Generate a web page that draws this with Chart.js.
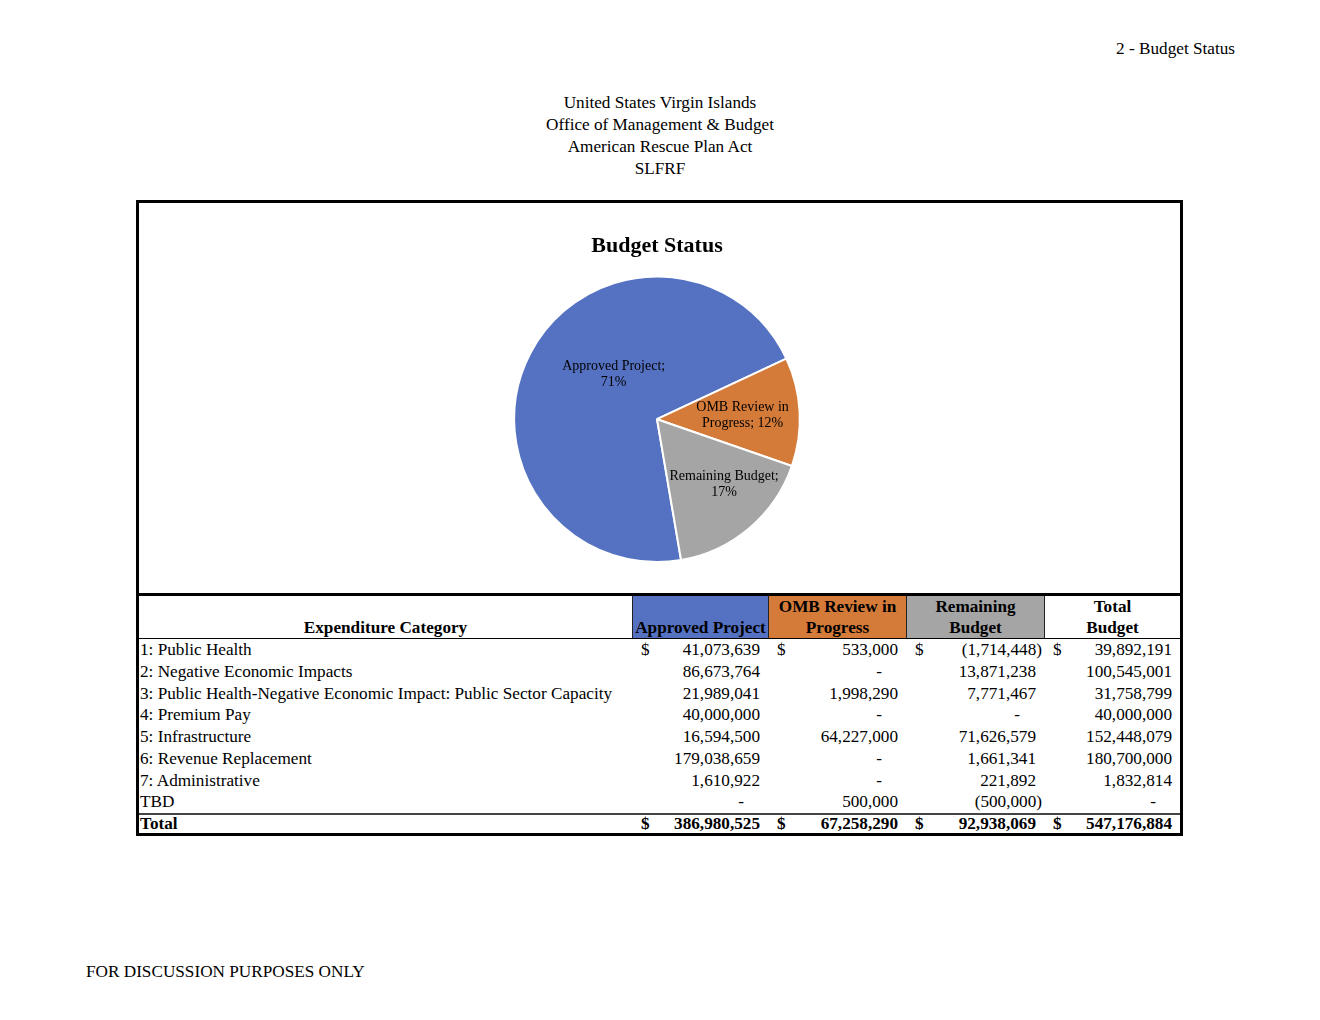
<!DOCTYPE html>
<html>
<head>
<meta charset="utf-8">
<script src="https://cdn.jsdelivr.net/npm/chart.js@4.4.0/dist/chart.umd.min.js"></script>
<style>
  body { margin: 0; background: #fff; font-family: "Liberation Serif", "Times New Roman", serif; color: #000; }
  #page { position: relative; width: 1320px; height: 1020px; }
  .txt { position: absolute; font-size: 17.2px; line-height: 22px; white-space: nowrap; }
  #box { position: absolute; left: 136px; top: 200px; width: 1047px; height: 636px; border: 3px solid #000; box-sizing: border-box; }
  #chartWrap { position: absolute; left: 0; top: 0; width: 1041px; height: 390px; }
  #sep { position: absolute; left: 0; top: 390px; width: 1041px; height: 3px; background: #000; }
  #tbl { position: absolute; left: 0; top: 393px; width: 1041px; font-size: 17.2px; }
  .row { display: flex; }
  .cell { position: relative; box-sizing: border-box; white-space: nowrap; }
  .hdr .cell { height: 42px; font-weight: bold; text-align: center; line-height: 21px; display: flex; flex-direction: column; justify-content: flex-end; }
  .hdr .cell.num { border-left: 1px solid #222; }
  .hdr { border-bottom: 1px solid #000; }
  .data .cell { height: 21.75px; line-height: 21.75px; }
  .tot { border-top: 2px solid #444; }
  .tot .cell { height: 18px; line-height: 18px; font-weight: bold; }
  .cat { width: 493px; padding-left: 1px; }
  .dol { position: absolute; left: 9px; top: 0; }
  .val { position: absolute; right: 8px; top: 0; }
  .val.neg { right: 2px; }
  .val.dash { right: 24px; }
</style>
</head>
<body>
<div id="page">
  <div class="txt" style="right:85px; top:38px;">2 - Budget Status</div>
  <div class="txt" style="left:0; width:1320px; top:92px; text-align:center;">
    United States Virgin Islands<br>Office of Management &amp; Budget<br>American Rescue Plan Act<br>SLFRF
  </div>
  <div id="box">
    <div id="chartWrap"><canvas id="myChart" width="1041" height="390"></canvas></div>
    <div id="sep"></div>
    <div id="tbl"></div>
  </div>
  <div class="txt" style="left:86px; top:961px;">FOR DISCUSSION PURPOSES ONLY</div>
</div>
<script>
// table rows
const categories = [
  '1: Public Health',
  '2: Negative Economic Impacts',
  '3: Public Health-Negative Economic Impact: Public Sector Capacity',
  '4: Premium Pay',
  '5: Infrastructure',
  '6: Revenue Replacement',
  '7: Administrative',
  'TBD'
];
const approved = [41073639, 86673764, 21989041, 40000000, 16594500, 179038659, 1610922, 0];
const ombReview = [533000, 0, 1998290, 0, 64227000, 0, 0, 500000];
const remaining = [-1714448, 13871238, 7771467, 0, 71626579, 1661341, 221892, -500000];
const totalBudget = [39892191, 100545001, 31758799, 40000000, 152448079, 180700000, 1832814, 0];

const statusLabels = ['Approved Project', 'OMB Review in Progress', 'Remaining Budget'];
const colors = ['#5572C2', '#D57B39', '#A5A5A5'];

// label text lines + placement (angle shift deg, radius fraction)
const labelLines = [['Approved Project;', '71%'], ['OMB Review in', 'Progress; 12%'], ['Remaining Budget;', '17%']];
const labelPlace = [[18.8, 0.44], [0, 0.60], [-6, 0.65]];

const sum = a => a.reduce((s, v) => s + v, 0);
const pieData = [sum(approved), sum(ombReview), sum(remaining)];

function fmt(n) {
  if (n === 0) return { t: '-', c: 'dash' };
  const s = Math.abs(n).toLocaleString('en-US');
  return n < 0 ? { t: '(' + s + ')', c: 'neg' } : { t: s, c: '' };
}

// build table
const tbl = document.getElementById('tbl');
const widths = [136, 138, 138, 136];
const hdrBg = ['#5572C2', '#D57B39', '#A5A5A5', '#fff'];
const hdrText = [['Approved Project'], ['OMB Review in', 'Progress'], ['Remaining', 'Budget'], ['Total', 'Budget']];

let html = '<div class="row hdr"><div class="cell cat" style="padding-left:0"><div>Expenditure Category</div></div>';
hdrText.forEach((lines, i) => {
  html += '<div class="cell num" style="width:' + widths[i] + 'px;background:' + hdrBg[i] + '">' +
    lines.map(l => '<div>' + l + '</div>').join('') + '</div>';
});
html += '</div>';

function numCells(vals, withDollar) {
  let out = '';
  vals.forEach((v, i) => {
    const f = fmt(v);
    out += '<div class="cell" style="width:' + widths[i] + 'px">' +
      (withDollar ? '<span class="dol">$</span>' : '') +
      '<span class="val ' + f.c + '">' + f.t + '</span></div>';
  });
  return out;
}

categories.forEach((c, r) => {
  html += '<div class="row data"><div class="cell cat">' + c + '</div>' +
    numCells([approved[r], ombReview[r], remaining[r], totalBudget[r]], r === 0) + '</div>';
});
html += '<div class="row tot"><div class="cell cat">Total</div>' +
  numCells([sum(approved), sum(ombReview), sum(remaining), sum(totalBudget)], true) + '</div>';
tbl.innerHTML = html;

// slice labels
const sliceLabels = {
  id: 'sliceLabels',
  afterDatasetsDraw(chart) {
    const c = chart.ctx;
    const arcs = chart.getDatasetMeta(0).data;
    c.save();
    c.font = '14px "Liberation Serif", serif';
    c.fillStyle = '#000';
    c.textAlign = 'center';
    c.textBaseline = 'middle';
    arcs.forEach((arc, i) => {
      const p = arc.getProps(['x', 'y', 'startAngle', 'endAngle', 'outerRadius'], true);
      const a = (p.startAngle + p.endAngle) / 2 + labelPlace[i][0] * Math.PI / 180;
      const r = p.outerRadius * labelPlace[i][1];
      const x = p.x + Math.cos(a) * r;
      const y = p.y + Math.sin(a) * r;
      const lines = labelLines[i];
      lines.forEach((l, k) => c.fillText(l, x, y + 1 + (k - (lines.length - 1) / 2) * 16));
    });
    c.restore();
  }
};

const ctx = document.getElementById('myChart');
new Chart(ctx, {
  type: 'pie',
  data: {
    labels: statusLabels,
    datasets: [{
      data: pieData,
      backgroundColor: colors,
      borderColor: '#fff',
      borderWidth: 2
    }]
  },
  options: {
    responsive: false,
    animation: false,
    devicePixelRatio: 1,
    rotation: 170.3,
    layout: { padding: { left: 0, right: 5, top: 0, bottom: 30 } },
    plugins: {
      legend: { display: false },
      tooltip: { enabled: false },
      title: {
        display: true,
        text: 'Budget Status',
        color: '#000',
        font: { family: '"Liberation Serif", serif', size: 22, weight: 'bold' },
        padding: { top: 30, bottom: 16 }
      }
    }
  },
  plugins: [sliceLabels]
});
</script>
</body>
</html>
